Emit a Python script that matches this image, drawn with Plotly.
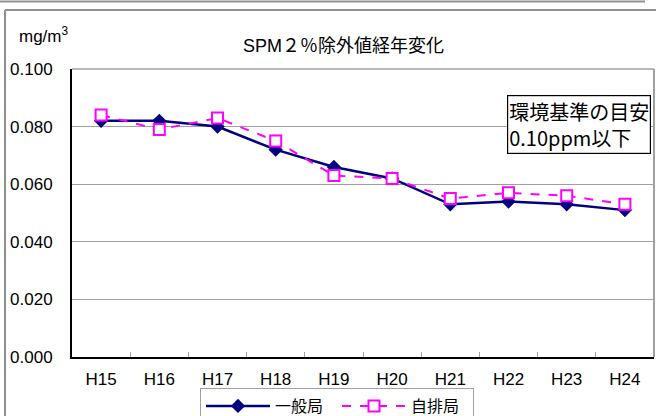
import plotly.graph_objects as go

years = ["H15", "H16", "H17", "H18", "H19", "H20", "H21", "H22", "H23", "H24"]
ippan = [0.082, 0.082, 0.080, 0.072, 0.066, 0.062, 0.053, 0.054, 0.053, 0.051]
jihai = [0.084, 0.079, 0.083, 0.075, 0.063, 0.062, 0.055, 0.057, 0.056, 0.053]
y_ticks = [0.0, 0.02, 0.04, 0.06, 0.08, 0.10]

W, H = 656, 416
L, R, T, B = 72, 654, 69, 357


def fx(x):
    # pixel -> paper fraction (paper = whole figure, margins are 0)
    return x / W


def fy(y):
    return (H - y) / H


FONT = "Liberation Sans, Noto Sans CJK JP, sans-serif"
JFONT = "Noto Sans CJK JP, sans-serif"

fig = go.Figure()
fig.add_trace(go.Scatter(
    x=years, y=ippan, name="一般局", mode="lines+markers",
    line=dict(color="#000080", width=2.5),
    marker=dict(symbol="diamond", size=11, color="#000080"),
))
fig.add_trace(go.Scatter(
    x=years, y=jihai, name="自排局", mode="lines+markers",
    line=dict(color="#FF00FF", width=2, dash="dash"),
    marker=dict(symbol="square", size=11, color="white",
                line=dict(color="#FF00FF", width=2)),
))

gray = "#A0A0A0"
frame = "#909090"
shapes = [
    # plot area top/right border
    dict(type="line", xref="paper", yref="paper", x0=fx(L), x1=fx(R), y0=fy(T), y1=fy(T),
         line=dict(color=gray, width=1.5), layer="below"),
    dict(type="line", xref="paper", yref="paper", x0=fx(R), x1=fx(R), y0=fy(B), y1=fy(T),
         line=dict(color=gray, width=2), layer="below"),
    # outer frames
    dict(type="line", xref="paper", yref="paper", x0=fx(0), x1=fx(645), y0=fy(1.5), y1=fy(1.5),
         line=dict(color=frame, width=2)),
    dict(type="line", xref="paper", yref="paper", x0=fx(5), x1=fx(656), y0=fy(10), y1=fy(10),
         line=dict(color=frame, width=2)),
    dict(type="line", xref="paper", yref="paper", x0=fx(5), x1=fx(5), y0=fy(10), y1=fy(416),
         line=dict(color=frame, width=2)),
]

annotations = [
    dict(text="SPM２％除外値経年変化", xref="paper", yref="paper",
         x=fx(343), y=fy(46), xanchor="center", yanchor="middle",
         showarrow=False, font=dict(family=FONT, size=18, color="black")),
    dict(text="mg/m<sup>3</sup>", xref="paper", yref="paper",
         x=fx(17), y=fy(35), xanchor="left", yanchor="middle",
         showarrow=False, font=dict(family=FONT, size=17, color="black")),
    dict(text="環境基準の目安<br>0.10ppm以下", xref="paper", yref="paper",
         x=fx(507), y=fy(95), xanchor="left", yanchor="top", align="left",
         showarrow=False, bordercolor="black", borderwidth=1.2, borderpad=1,
         bgcolor="white",
         font=dict(family=JFONT, size=20, color="black")),
]

fig.update_layout(
    width=W, height=H,
    margin=dict(l=0, r=0, t=0, b=0, pad=0, autoexpand=False),
    paper_bgcolor="white", plot_bgcolor="white",
    font=dict(family=FONT, size=17, color="black"),
    showlegend=True,
    legend=dict(orientation="h", x=fx(200), y=fy(388), xanchor="left", yanchor="top",
                bordercolor=gray, borderwidth=1, bgcolor="white",
                font=dict(family=JFONT, size=16, color="black"),
                itemwidth=64, entrywidth=57, entrywidthmode="pixels"),
    shapes=shapes, annotations=annotations,
)
fig.update_xaxes(
    domain=[fx(L), fx(R)],
    type="category", range=[-0.5, 9.5], showgrid=False,
    showline=True, linecolor="black", linewidth=2,
    ticks="inside", tickson="boundaries", ticklen=5, tickcolor=gray, tickwidth=1,
    ticklabelstandoff=6,
    tickfont=dict(family=FONT, size=17), fixedrange=True, automargin=False,
)
fig.update_yaxes(
    domain=[fy(B), fy(T)],
    range=[0, 0.1], tickvals=y_ticks, tickformat=".3f",
    showgrid=True, gridcolor=gray, gridwidth=1, zeroline=False,
    showline=True, linecolor="black", linewidth=2, ticks="",
    ticklabelstandoff=14, tickfont=dict(family=FONT, size=17), fixedrange=True,
    automargin=False,
)

fig.write_html("out.html", config={"displayModeBar": False},
               post_script="document.body.style.margin='0';document.body.style.overflow='hidden';")
